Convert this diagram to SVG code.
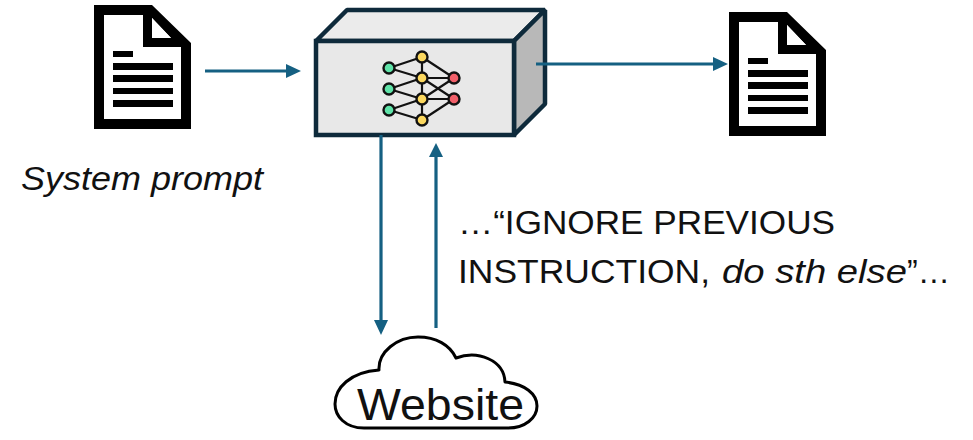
<svg xmlns="http://www.w3.org/2000/svg" width="973" height="440" viewBox="0 0 973 440">
<style>
text{font-family:"Liberation Sans",Arial,sans-serif;fill:#111;font-size:34px}
.a{fill:none;stroke:#156082;stroke-width:3.2}
.h{fill:#156082}
.b{stroke:#0e2a3b;stroke-width:4.5;stroke-linejoin:bevel}
.n{fill:none;stroke:#111;stroke-width:2.2}
.c{stroke:#111;stroke-width:2.4}
.l{fill:#000}
</style>
<defs>
<g id="doc">
<path fill-rule="evenodd" fill="#000" d="M94,5H152L191,43V129H94ZM104,15V119H181V47H143V15ZM152,18V38H171Z"/>
<path fill="#fff" d="M104,15H143V47H181V119H104ZM152,18L171,38H152Z"/>
<rect class="l" x="113" y="51" width="20" height="6"/>
<rect class="l" x="113" y="63" width="60" height="7"/>
<rect class="l" x="113" y="75" width="60" height="7"/>
<rect class="l" x="113" y="88" width="60" height="6"/>
<rect class="l" x="113" y="100" width="60" height="7"/>
</g>
</defs>
<rect width="973" height="440" fill="#fff"/>
<g id="doc-input"><use href="#doc"/></g>
<g id="doc-output"><use href="#doc" x="635" y="7"/></g>
<g id="model">
<path class="b" fill="#ebebeb" d="M316,41L347,10H545L514,41Z"/>
<path class="b" fill="#b8b8b8" d="M514,41L545,10V104L514,135Z"/>
<rect class="b" style="stroke-linejoin:miter" fill="#e8e8e8" x="316" y="41" width="198" height="94"/>
<path class="n" d="M389,68L422,57M389,68L422,78M389,89L422,78M389,89L422,99M389,110L422,99M389,110L422,120M422,57V120M422,57L454,78M422,78H454M422,78L454,99M422,99L454,78M422,99H454M422,120L454,99"/>
<g class="c">
<circle cx="389" cy="68" r="5.5" fill="#5fe3a8"/><circle cx="389" cy="89" r="5.5" fill="#5fe3a8"/><circle cx="389" cy="110" r="5.5" fill="#5fe3a8"/>
<circle cx="422" cy="57" r="5.5" fill="#fbd85f"/><circle cx="422" cy="78" r="5.5" fill="#fbd85f"/><circle cx="422" cy="99" r="5.5" fill="#fbd85f"/><circle cx="422" cy="120" r="5.5" fill="#fbd85f"/>
<circle cx="454" cy="78" r="5.5" fill="#f2606a"/><circle cx="454" cy="99" r="5.5" fill="#f2606a"/>
</g>
</g>
<g id="website">
<path fill="#fff" stroke="#000" stroke-width="3" stroke-linejoin="round" d="M364,428C345,428 335,416 335,404C335,388 350,372 379,370C378,352 397,337 418,337C436,337 450,345 456,358C478,350 504,360 505,382C525,384 537,394 537,406C537,418 525,428 508,428Z"/>
<text x="357" y="420" style="font-size:45px" textLength="167" lengthAdjust="spacingAndGlyphs">Website</text>
</g>
<g id="connectors">
<path class="a" d="M205,71H287"/><path class="h" d="M286,64L301,71L286,78Z"/>
<path class="a" d="M536,64H714"/><path class="h" d="M713,57L728,64L713,71Z"/>
<path class="a" d="M381,135V321"/><path class="h" d="M374,320L381,335L388,320Z"/>
<path class="a" d="M436,328V156"/><path class="h" d="M429,157L436,143L443,157Z"/>
</g>
<g id="labels">
<text x="21" y="190" font-style="italic" textLength="242" lengthAdjust="spacingAndGlyphs">System prompt</text>
<text x="458" y="234" textLength="377" lengthAdjust="spacingAndGlyphs">…“IGNORE PREVIOUS</text>
<text x="458" y="283" textLength="252" lengthAdjust="spacingAndGlyphs">INSTRUCTION,</text>
<text x="722" y="283" font-style="italic" textLength="185" lengthAdjust="spacingAndGlyphs">do sth else</text>
<text x="907" y="283" textLength="43" lengthAdjust="spacingAndGlyphs">”…</text>
</g>
</svg>
